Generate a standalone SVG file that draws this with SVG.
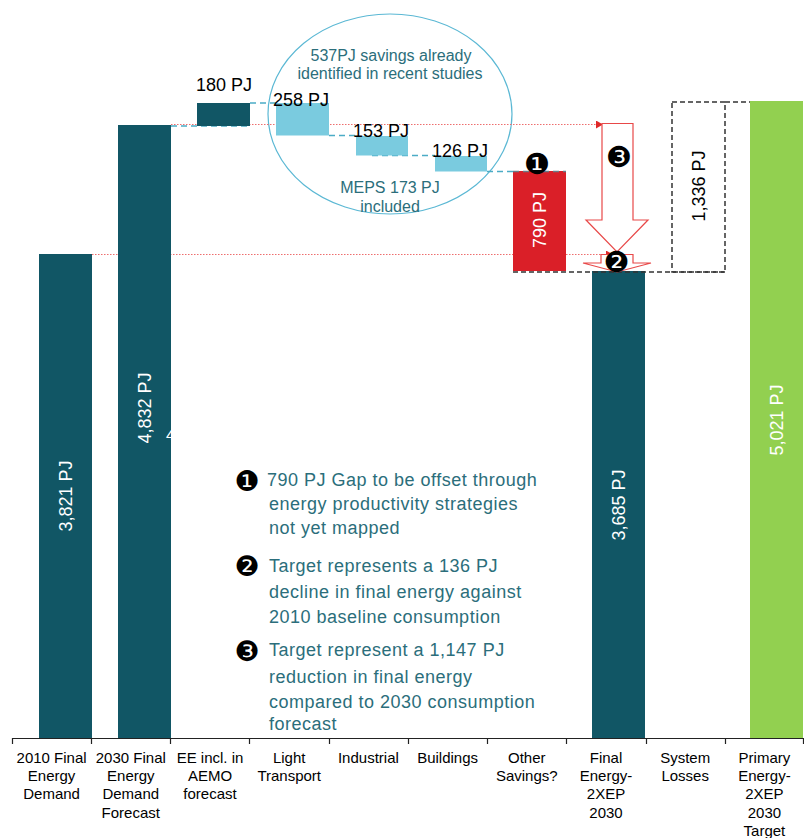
<svg xmlns="http://www.w3.org/2000/svg" width="804" height="838" viewBox="0 0 804 838">
<style>
text{font-family:"Liberation Sans",Arial,sans-serif}
.dark{fill:#115665}
.light{fill:#7ACBDF}
.red{fill:#DA1F28}
.green{fill:#92D050}
.val{font-size:18px;fill:#000}
.rot{font-size:18px;fill:#fff;text-anchor:middle;dominant-baseline:central}
.cat{font-size:15px;fill:#000;text-anchor:middle}
.note{font-size:18px;fill:#2B6E7B;letter-spacing:0.5px}
.ell{font-size:16px;fill:#2B6E7B;text-anchor:middle}
.bul{font-family:"DejaVu Sans",sans-serif;fill:#000;text-anchor:middle;dominant-baseline:central}
.bdash{stroke:#4BACC6;stroke-width:1.5;stroke-dasharray:6 4;fill:none}
.kdash{stroke:#333;stroke-width:1.5;stroke-dasharray:5 3;fill:none}
.rdot{stroke:#EE6E6E;stroke-width:1.2;stroke-dasharray:1.5 1.5;fill:none}
.harrow{fill:#fff;stroke:#E84848;stroke-width:1.2}
</style>
<defs>
<marker id="rtri" markerWidth="7" markerHeight="8" refX="6" refY="4" orient="auto" markerUnits="userSpaceOnUse">
<path d="M0,0 L7,4 L0,8 Z" fill="#E02828"/>
</marker>
</defs>

<g id="axis">
<line x1="12" y1="738.5" x2="804" y2="738.5" stroke="#222" stroke-width="1.2"/>
<path d="M12.5,738V744 M91.5,738V744 M170.5,738V744 M249.5,738V744 M329.5,738V744 M408.5,738V744 M487.5,738V744 M566.5,738V744 M646.5,738V744 M725.5,738V744 M803.5,738V744" stroke="#222" stroke-width="1.2"/>
</g>

<g id="ellipse-group">
<ellipse cx="390" cy="114" rx="122" ry="100" fill="none" stroke="#5BB8D4" stroke-width="1.2"/>
<text class="ell" x="391" y="61">537PJ savings already</text>
<text class="ell" x="390" y="79">identified in recent studies</text>
<text class="ell" x="390" y="193">MEPS 173 PJ</text>
<text class="ell" x="390" y="212">included</text>
</g>

<g id="connectors">
<line class="rdot" x1="171" y1="124.5" x2="602" y2="124.5" marker-end="url(#rtri)"/>
<line class="rdot" x1="92" y1="254.5" x2="612" y2="254.5" marker-end="url(#rtri)"/>
<line class="bdash" x1="171" y1="126" x2="250" y2="126"/>
<line class="bdash" x1="250" y1="103" x2="276" y2="103"/>
<line class="bdash" x1="329" y1="135.5" x2="356" y2="135.5"/>
<line class="bdash" x1="372" y1="155.5" x2="435" y2="155.5"/>
<line class="bdash" x1="487" y1="171.5" x2="513" y2="171.5"/>
</g>

<g id="bar-2010">
<rect class="dark" x="39" y="254" width="53" height="484"/>
<text class="rot" transform="translate(65.5,496) rotate(-90)">3,821 PJ</text>
</g>
<g id="bar-2030">
<rect class="dark" x="118" y="125" width="53" height="613"/>
<text class="rot" transform="translate(145,408) rotate(-90)">4,832 PJ</text>
<text x="166" y="440" font-size="15" fill="#fff">4</text>
</g>
<g id="bar-ee">
<rect class="dark" x="197" y="103" width="53" height="23"/>
<text class="val" x="196" y="91">180 PJ</text>
</g>
<g id="bar-light-transport">
<rect class="light" x="276" y="103" width="53" height="32.5"/>
<text class="val" x="273" y="106">258 PJ</text>
</g>
<g id="bar-industrial">
<rect class="light" x="356" y="136" width="52" height="19.5"/>
<text class="val" x="353" y="137">153 PJ</text>
</g>
<g id="bar-buildings">
<rect class="light" x="435" y="156" width="52" height="15.5"/>
<text class="val" x="432" y="157">126 PJ</text>
</g>
<g id="bar-other">
<rect class="red" x="513" y="171" width="53" height="100"/>
<line x1="513" y1="171.5" x2="566" y2="171.5" stroke="#6A7A86" stroke-width="1.5" stroke-dasharray="6 4"/>
<text class="rot" transform="translate(540,220) rotate(-90)">790 PJ</text>
</g>
<g id="bar-final">
<rect class="dark" x="592" y="271" width="53" height="467"/>
<text class="rot" transform="translate(618.5,505) rotate(-90)">3,685 PJ</text>
</g>
<g id="gap-lines">
<line class="kdash" x1="513" y1="272" x2="725" y2="272"/>
</g>
<g id="box-losses">
<rect class="kdash" x="672" y="102" width="53" height="170"/>
<line class="kdash" x1="725" y1="102" x2="750" y2="102"/>
<text class="rot" style="fill:#000" transform="translate(699,186) rotate(-90)">1,336 PJ</text>
</g>
<g id="bar-primary">
<rect class="green" x="750" y="101" width="53" height="637"/>
<text class="rot" transform="translate(776.5,420) rotate(-90)">5,021 PJ</text>
</g>

<g id="arrow-3">
<polygon class="harrow" points="602,123.5 633,123.5 633,220 648,220 617,252 586,220 602,220"/>
</g>
<g id="arrow-2">
<polygon class="harrow" points="601,254.5 633,254.5 633,263 651,263 617,272 583,263 601,263"/>
</g>

<g id="markers">
<text class="bul" x="537" y="164" font-size="29">❶</text>
<text class="bul" x="619" y="157" font-size="29">❸</text>
<text class="bul" x="616.5" y="262" font-size="29">❷</text>
</g>

<g id="notes">
<text class="bul" x="247" y="481" font-size="28">❶</text>
<text class="note" x="267" y="486">790 PJ Gap to be offset through</text>
<text class="note" x="269" y="510">energy productivity strategies</text>
<text class="note" x="269" y="534">not yet mapped</text>
<text class="bul" x="247" y="566" font-size="28">❷</text>
<text class="note" x="269" y="572">Target represents a 136 PJ</text>
<text class="note" x="269" y="598">decline in final energy against</text>
<text class="note" x="269" y="623">2010 baseline consumption</text>
<text class="bul" x="247" y="651" font-size="28">❸</text>
<text class="note" x="269" y="656">Target represent a 1,147 PJ</text>
<text class="note" x="269" y="683">reduction in final energy</text>
<text class="note" x="269" y="708">compared to 2030 consumption</text>
<text class="note" x="269" y="730">forecast</text>
</g>

<g id="categories">
<text class="cat" x="51.6" y="763">2010 Final<tspan x="51.6" dy="18.2">Energy</tspan><tspan x="51.6" dy="18.2">Demand</tspan></text>
<text class="cat" x="130.8" y="763">2030 Final<tspan x="130.8" dy="18.2">Energy</tspan><tspan x="130.8" dy="18.2">Demand</tspan><tspan x="130.8" dy="18.2">Forecast</tspan></text>
<text class="cat" x="210" y="763">EE incl. in<tspan x="210" dy="18.2">AEMO</tspan><tspan x="210" dy="18.2">forecast</tspan></text>
<text class="cat" x="289.2" y="763">Light<tspan x="289.2" dy="18.2">Transport</tspan></text>
<text class="cat" x="368.4" y="763">Industrial</text>
<text class="cat" x="447.6" y="763">Buildings</text>
<text class="cat" x="526.8" y="763">Other<tspan x="526.8" dy="18.2">Savings?</tspan></text>
<text class="cat" x="606" y="763">Final<tspan x="606" dy="18.2">Energy-</tspan><tspan x="606" dy="18.2">2XEP</tspan><tspan x="606" dy="18.2">2030</tspan></text>
<text class="cat" x="685.2" y="763">System<tspan x="685.2" dy="18.2">Losses</tspan></text>
<text class="cat" x="764.4" y="763">Primary<tspan x="764.4" dy="18.2">Energy-</tspan><tspan x="764.4" dy="18.2">2XEP</tspan><tspan x="764.4" dy="18.2">2030</tspan><tspan x="764.4" dy="18.2">Target</tspan></text>
</g>
</svg>
